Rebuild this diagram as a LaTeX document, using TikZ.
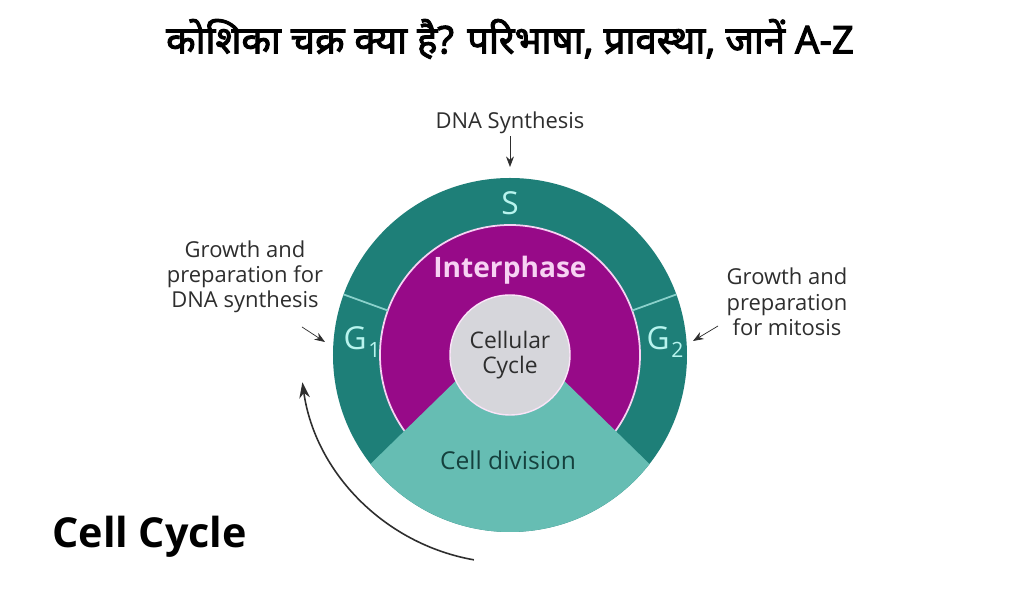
\documentclass[tikz,border=0pt]{standalone}
\usepackage{fontspec}
\setmainfont{Open Sans}
\newfontfamily\hindifont[Script=Devanagari,FakeBold=2.6]{Noto Sans}
\usetikzlibrary{arrows.meta,positioning}
\definecolor{ringteal}{HTML}{1E7F78}
\definecolor{interpink}{HTML}{970A88}
\definecolor{divteal}{HTML}{66BDB3}
\definecolor{coregray}{HTML}{D6D6DB}
\definecolor{phasecyan}{HTML}{B8F4EE}
\definecolor{lightpink}{HTML}{F7D2F3}
\definecolor{darkgreen}{HTML}{15403D}
\definecolor{labelgray}{HTML}{2E2E2E}
\newcommand{\phasesub}[1]{\kern1pt\raisebox{-5pt}{\fontsize{12}{12}\selectfont #1}}

\begin{document}
\begin{tikzpicture}[x=0.02cm,y=0.02cm,
	lbl/.style={align=center,font=\fontsize{12.5}{14.4}\selectfont,text=labelgray,inner sep=1pt},
	ptr/.style={-{Stealth[length=6pt,width=4.5pt]},thin,labelgray},
	phase/.style={font=\fontsize{18}{20}\selectfont,text=phasecyan,inner sep=0pt}]
	\useasboundingbox (-510,-242) rectangle (514,355);
	\fill[white] (-510,-242) rectangle (514,355);
	\fill[ringteal] (0,0) circle (177);
	\fill[interpink] (0,0) circle (130);
	\draw[lightpink,line width=1pt] (0,0) circle (130);
	\draw[phasecyan!70!ringteal,line width=1pt] (160:130) -- (160:177) (20:130) -- (20:177);
	\fill[divteal] (0,27) -- (218:177) arc[start angle=218,end angle=322,radius=177] -- cycle;
	\fill[coregray] (0,0) circle (60);
	\draw[lightpink!60!white,line width=0.8pt] (0,0) circle (60);
	\node[font=\hindifont\fontsize{21.8}{24}\selectfont] (title) at (0,316) {कोशिका चक्र क्या है? परिभाषा, प्रावस्था, जानें A-Z};
	\node[lbl] (dna) at (0,232) {DNA Synthesis};
	\coordinate (stop) at (0,188);
	\draw[ptr] (dna) -- (stop);
	\node[phase] (sphase) at (0,152) {S};
	\node[font=\bfseries\fontsize{16}{18}\selectfont,text=lightpink] (inter) at (0,85) {Interphase};
	\node[lbl,font=\fontsize{13}{14}\selectfont] (core) at (0,0) {Cellular\\Cycle};
	\node[font=\fontsize{14}{16}\selectfont,text=darkgreen] (celldiv) at (-2,-105) {Cell division};
	\node[phase] (gone) at (-148,13) {G\phasesub{1}};
	\node[phase] (gtwo) at (155,13) {G\phasesub{2}};
	\node[lbl] (growone) at (-265,78) {Growth and\\preparation for\\DNA synthesis};
	\node[lbl] (growtwo) at (277,53) {Growth and\\preparation\\for mitosis};
	\coordinate (g1from) at (-208,28);
	\coordinate (g1to) at (-185,13);
	\coordinate (g2from) at (208,29);
	\coordinate (g2to) at (183,14);
	\draw[ptr] (g1from) -- (g1to);
	\draw[ptr] (g2from) -- (g2to);
	\draw[labelgray,line width=0.9pt,-{Stealth[length=9pt,width=6pt]}] (260:208) arc[start angle=260,end angle=188,radius=210];
	\node[anchor=west,font=\bfseries\fontsize{23.5}{26}\selectfont,inner sep=0pt] (cycle) at (-458,-182) {Cell Cycle};
\end{tikzpicture}
\end{document}
